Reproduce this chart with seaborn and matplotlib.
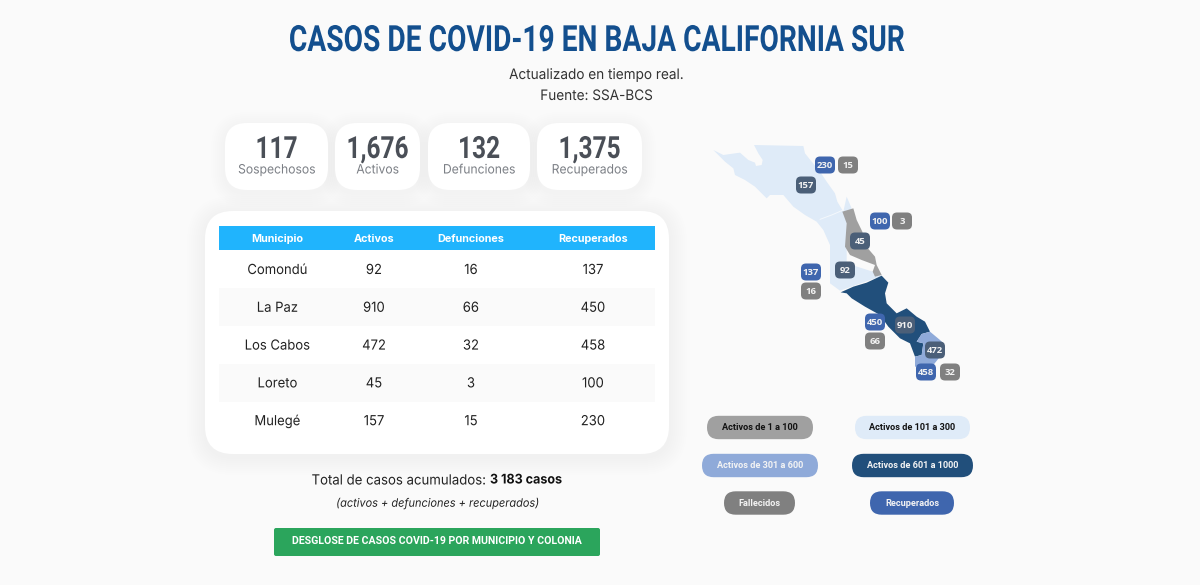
import numpy as np
import matplotlib
matplotlib.use("Agg")
import matplotlib.pyplot as plt
from matplotlib.patches import FancyBboxPatch, Polygon
from matplotlib.patheffects import AbstractPathEffect
from matplotlib.transforms import Affine2D
import seaborn as sns

# datos
municipios = ["Comondú", "La Paz", "Los Cabos", "Loreto", "Mulegé"]
activos = [92, 910, 472, 45, 157]
defunciones = [16, 66, 32, 3, 15]
recuperados = [137, 450, 458, 100, 230]
columnas = ["Municipio", "Activos", "Defunciones", "Recuperados"]
resumen_valores = ["117", "1,676", "132", "1,375"]
resumen_nombres = ["Sospechosos", "Activos", "Defunciones", "Recuperados"]
leyenda = ["Activos de 1 a 100", "Activos de 101 a 300", "Activos de 301 a 600",
           "Activos de 601 a 1000", "Fallecidos", "Recuperados"]

BODY = "Inter"
BTN = "Roboto"
BG = "#fafafa"
GRIS = "#a0a0a0"
CLARO = "#dfebf8"
MEDIO = "#8faad9"
OSCURO = "#214f7b"
FALLE = "#808080"
RECUP = "#3f66ae"
BADGE = "#4b5f78"

sns.set_theme(style="white")
plt.rcParams["font.family"] = [BODY, "DejaVu Sans"]

fig = plt.figure(figsize=(12, 5.85), dpi=100, facecolor=BG)


def lienzo(z):
    a = fig.add_axes([0, 0, 1, 1], zorder=z)
    a.set_xlim(0, 1200)
    a.set_ylim(585, 0)
    a.axis("off")
    return a


fondo = lienzo(1)
ax = lienzo(3)


# no hay fuente condensada instalada: se estrecha el texto al dibujarlo
class Estrecho(AbstractPathEffect):
    def __init__(self, sx, cx):
        super().__init__()
        self.sx = sx
        self.cx = cx

    def draw_path(self, renderer, gc, tpath, affine, rgbFace=None):
        t = affine + Affine2D().translate(-self.cx, 0).scale(self.sx, 1).translate(self.cx, 0)
        renderer.draw_path(gc, tpath, t, rgbFace)


def caja(x0, y0, x1, y1, r, color, z=2, a=None):
    a = a or ax
    p = FancyBboxPatch((x0, y0), x1 - x0, y1 - y0, boxstyle=f"round,pad=0,rounding_size={r}",
                       fc=color, ec="none", zorder=z)
    a.add_patch(p)


def sombra(x0, y0, x1, y1, r, ancho=14):
    for d in range(ancho, 0, -2):
        p = FancyBboxPatch((x0 - d, y0 - d + 3), x1 - x0 + 2 * d, y1 - y0 + 2 * d,
                           boxstyle=f"round,pad=0,rounding_size={r + d}",
                           fc="black", ec="none", alpha=0.005, zorder=1)
        fondo.add_patch(p)


def txt(x, y, s, size, color="#222222", family=BODY, weight="normal", style="normal", z=5, sx=None, ha="center"):
    t = ax.text(x, y, s, fontsize=size, color=color, family=family, weight=weight, style=style,
                ha=ha, va="center", zorder=z)
    if sx:
        t.set_path_effects([Estrecho(sx, x)])
    return t


# encabezado
txt(596.5, 41, "CASOS DE COVID-19 EN BAJA CALIFORNIA SUR", 26, "#134f8e", BTN, "bold", sx=0.78)
txt(596.5, 75, "Actualizado en tiempo real.", 10.4, "#333333", sx=0.94)
txt(596.5, 96, "Fuente: SSA-BCS", 10.4, "#333333", sx=0.94)

# tarjetas de resumen
cajas_x = [(225, 328), (335, 420), (428, 530), (537, 642)]
for (x0, x1), v, n in zip(cajas_x, resumen_valores, resumen_nombres):
    sombra(x0, 123, x1, 190, 22)
    caja(x0, 123, x1, 190, 22, "white", a=fondo)
    txt((x0 + x1) / 2, 149, v, 22, "#4a4f57", BTN, "bold", sx=0.8)
    txt((x0 + x1) / 2, 170.5, n, 9.3, "#7b7f85", sx=0.94)

# tabla
sombra(205, 211, 669, 454, 28, 18)
caja(205, 211, 669, 454, 28, "white", a=fondo)
franjas = np.array([[0], [1], [0], [1], [0]])
ax_tabla = fig.add_axes([219 / 1200, 1 - 440 / 585, 436 / 1200, 190 / 585], zorder=2)
sns.heatmap(franjas, ax=ax_tabla, cmap=["#ffffff", "#fafafa"], cbar=False, xticklabels=False,
            yticklabels=False, vmin=0, vmax=1)

ax.add_patch(plt.Rectangle((219, 226), 436, 24, fc="#20b4fd", ec="none", zorder=3))
col_x = [277.5, 374, 471, 593]
for x, c in zip(col_x, columnas):
    txt(x, 238.5, c, 7.8, "white", weight="bold")
for i, m in enumerate(municipios):
    y = 270 + 37.8 * i
    txt(col_x[0], y, m, 10, sx=0.94)
    txt(col_x[1], y, str(activos[i]), 10, sx=0.94)
    txt(col_x[2], y, str(defunciones[i]), 10, sx=0.94)
    txt(col_x[3], y, str(recuperados[i]), 10, sx=0.94)

total = sum(activos) + sum(defunciones) + sum(recuperados)
total_txt = f"{total:,}".replace(",", " ")
txt(487, 480.5, "Total de casos acumulados:", 10.1, sx=0.94, ha="right")
txt(490, 480.5, f"{total_txt} casos", 9.6, "#111111", weight="bold", sx=0.94, ha="left")
txt(437.5, 503.5, "(activos + defunciones + recuperados)", 8.4, "#222222", style="italic", sx=0.94)

caja(274, 528, 600, 556, 2, "#2ba55c")
txt(437, 541.5, "DESGLOSE DE CASOS COVID-19 POR MUNICIPIO Y COLONIA", 7.6, "white", BTN, "bold")


# mapa, contornos trazados en pixeles de la imagen
def zona(puntos, color):
    pts = [(680 + a / 3, 130 + b / 3) for a, b in puntos]
    ax.add_patch(Polygon(pts, closed=True, fc=color, ec="none", zorder=2))


zona([(100, 60), (130, 75), (165, 70), (180, 68), (205, 90), (225, 98), (228, 108), (245, 105),
      (248, 90), (235, 70), (222, 45), (370, 48), (375, 70), (395, 95), (420, 125), (440, 155),
      (465, 190), (472, 215), (490, 245), (500, 200), (515, 235), (500, 280), (500, 400),
      (578, 425), (605, 438), (480, 482), (450, 460), (450, 345), (430, 300), (410, 275),
      (375, 255), (340, 230), (310, 195), (270, 195), (260, 205), (225, 170), (195, 150),
      (165, 135), (160, 115), (135, 95)], CLARO)
ax.plot([680 + 420 / 3, 680 + 455 / 3, 680 + 490 / 3], [130 + 268 / 3, 130 + 255 / 3, 130 + 240 / 3],
        color="#f4f8fc", lw=0.7, zorder=2)
zona([(487, 245), (520, 235), (530, 270), (547, 305), (555, 345), (585, 380), (590, 405),
      (605, 435), (585, 440), (578, 425), (585, 405), (545, 390), (510, 375), (495, 350),
      (500, 280)], GRIS)
zona([(482, 487), (520, 470), (560, 458), (605, 437), (625, 458), (615, 490), (620, 520),
      (650, 550), (680, 535), (710, 560), (735, 575), (750, 605), (725, 612), (710, 635),
      (730, 640), (725, 675), (705, 680), (690, 640), (660, 625), (625, 590), (600, 555),
      (555, 530), (515, 505), (500, 490)], OSCURO)
zona([(725, 612), (750, 605), (780, 630), (790, 640), (780, 680), (760, 705), (720, 710),
      (705, 710), (705, 680), (725, 675), (730, 640), (710, 635)], MEDIO)

# etiquetas del mapa por municipio: (activos, recuperados, defunciones)
etiquetas = {
    "Comondú": [(845, 270), (811, 272), (811, 291)],
    "La Paz": [(905, 325), (875, 322), (875, 341)],
    "Los Cabos": [(935, 350), (926, 372), (950, 372)],
    "Loreto": [(860, 241), (880, 221), (902, 221)],
    "Mulegé": [(806, 185), (825, 165), (848, 165)],
}
for i, m in enumerate(municipios):
    pos = etiquetas[m]
    for (x, y), v, c in zip(pos, (activos[i], recuperados[i], defunciones[i]), (BADGE, RECUP, FALLE)):
        caja(x - 10, y - 8.5, x + 10, y + 8.5, 5, c, z=3)
        txt(x, y + 0.5, str(v), 6.8, "#f2f2f2", "Open Sans", "bold")

# leyenda
pildoras = [(707, 813, 427.5, GRIS, "#111111"), (855, 970, 427.5, CLARO, "#111111"),
            (702, 818, 465.5, MEDIO, "#f4f4f4"), (852, 973, 465.5, OSCURO, "#f4f4f4"),
            (724, 795, 503, FALLE, "#f4f4f4"), (870, 954, 503, RECUP, "#f4f4f4")]
for (x0, x1, y, c, tc), s in zip(pildoras, leyenda):
    caja(x0, y - 11.7, x1, y + 11.7, 11.7, c)
    txt((x0 + x1) / 2, y, s, 6.6, tc, BTN, "bold")

fig.savefig("out.png", dpi=100, facecolor=BG)
